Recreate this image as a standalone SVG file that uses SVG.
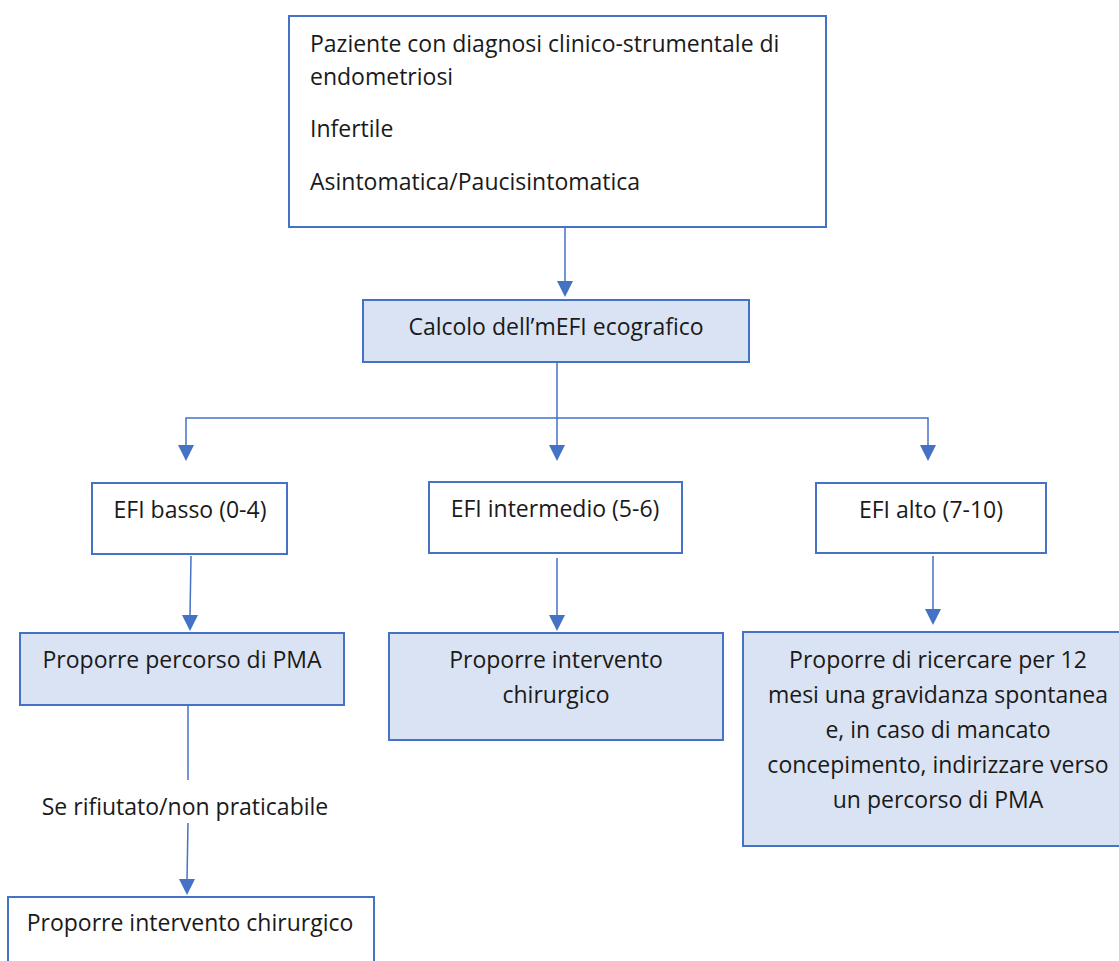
<svg xmlns="http://www.w3.org/2000/svg" width="1119" height="961" viewBox="0 0 1119 961">
<style>
.box{fill:#ffffff;stroke:#4472C4;stroke-width:2}
.fbox{fill:#DAE3F3;stroke:#4472C4;stroke-width:2}
text{font-family:"Open Sans","Liberation Sans",sans-serif;font-size:23px;fill:#1a1a1a}
.c{text-anchor:middle}
.ln{stroke:#4472C4;stroke-width:1.5;fill:none}
.ah{fill:#4472C4}
</style>
<g id="connectors">
<line class="ln" x1="565" y1="228" x2="565" y2="283"/>
<path class="ah" d="M557,281 L573,281 L565,297 Z"/>
<line class="ln" x1="557" y1="362" x2="557" y2="446"/>
<path class="ah" d="M549,445 L565,445 L557,461 Z"/>
<polyline class="ln" points="186,446 186,418 928,418 928,446"/>
<path class="ah" d="M178,445 L194,445 L186,461 Z"/>
<path class="ah" d="M920,445 L936,445 L928,461 Z"/>
<line class="ln" x1="191" y1="556" x2="190" y2="616"/>
<path class="ah" d="M182,615 L198,615 L190,631 Z"/>
<line class="ln" x1="557" y1="558" x2="557" y2="616"/>
<path class="ah" d="M549,615 L565,615 L557,631 Z"/>
<line class="ln" x1="933" y1="556" x2="933" y2="610"/>
<path class="ah" d="M925,609 L941,609 L933,625 Z"/>
<line class="ln" x1="188" y1="706" x2="188" y2="780"/>
<line class="ln" x1="188" y1="823" x2="187" y2="880"/>
<path class="ah" d="M179,879 L195,879 L187,895 Z"/>
</g>
<g id="n-top">
<rect class="box" x="289" y="16" width="537" height="211"/>
<text x="310" y="52">Paziente con diagnosi clinico-strumentale di</text>
<text x="310" y="85">endometriosi</text>
<text x="310" y="137">Infertile</text>
<text x="310" y="190">Asintomatica/Paucisintomatica</text>
</g>
<g id="n-mefi">
<rect class="fbox" x="363" y="300" width="386" height="62"/>
<text class="c" x="556" y="335">Calcolo dell’mEFI ecografico</text>
</g>
<g id="n-basso">
<rect class="box" x="92" y="483" width="195" height="71"/>
<text class="c" x="190" y="518">EFI basso (0-4)</text>
</g>
<g id="n-intermedio">
<rect class="box" x="429" y="482" width="253" height="71"/>
<text class="c" x="555" y="517">EFI intermedio (5-6)</text>
</g>
<g id="n-alto">
<rect class="box" x="816" y="483" width="230" height="70"/>
<text class="c" x="931" y="518">EFI alto (7-10)</text>
</g>
<g id="n-pma">
<rect class="fbox" x="20" y="633" width="324" height="72"/>
<text class="c" x="182" y="668">Proporre percorso di PMA</text>
</g>
<g id="n-chir-mid">
<rect class="fbox" x="389" y="633" width="334" height="107"/>
<text class="c" x="556" y="668">Proporre intervento</text>
<text class="c" x="556" y="703">chirurgico</text>
</g>
<g id="n-right">
<rect class="fbox" x="743" y="632" width="380" height="214"/>
<text class="c" x="938" y="668">Proporre di ricercare per 12</text>
<text class="c" x="938" y="703">mesi una gravidanza spontanea</text>
<text class="c" x="938" y="738">e, in caso di mancato</text>
<text class="c" x="938" y="773">concepimento, indirizzare verso</text>
<text class="c" x="938" y="808">un percorso di PMA</text>
</g>
<g id="n-label">
<text class="c" x="185" y="815">Se rifiutato/non praticabile</text>
</g>
<g id="n-chir-left">
<rect class="box" x="8" y="897" width="366" height="80"/>
<text class="c" x="190" y="931">Proporre intervento chirurgico</text>
</g>
</svg>
